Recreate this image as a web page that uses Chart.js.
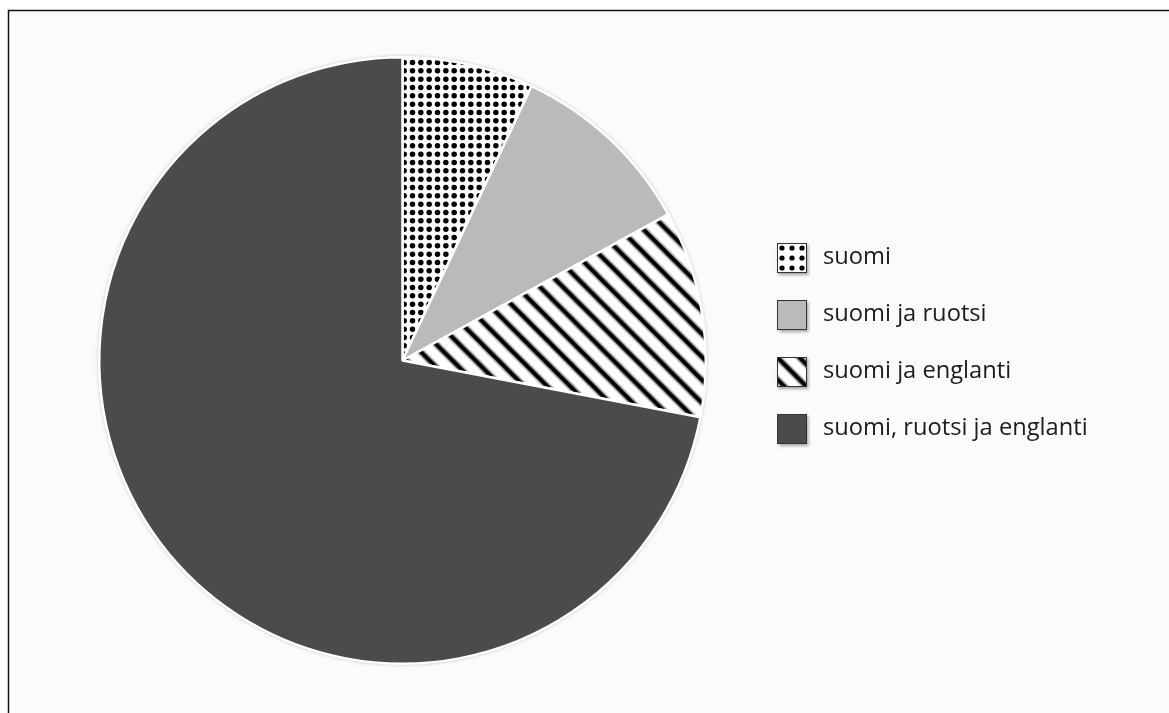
<!DOCTYPE html>
<html><head><meta charset="utf-8">
<script src="https://cdn.jsdelivr.net/npm/chart.js@4"></script>
<style>html,body{margin:0;padding:0;background:#fff;overflow:hidden}</style>
</head><body>
<canvas id="c" width="1169" height="713"></canvas>
<script>
const categories = ['suomi', 'suomi ja ruotsi', 'suomi ja englanti', 'suomi, ruotsi ja englanti'];
const shares = [7, 10, 11, 72];

function dotPattern(size, n, r) {
  const cv = document.createElement('canvas');
  cv.width = size; cv.height = size;
  const g = cv.getContext('2d');
  g.fillStyle = '#ffffff'; g.fillRect(0, 0, size, size);
  g.fillStyle = '#000000';
  const s = size / n;
  for (let i = 0; i < n; i++) for (let j = 0; j < n; j++) {
    g.beginPath(); g.arc(s * (i + 0.5), s * (j + 0.5), r, 0, Math.PI * 2); g.fill();
  }
  return g.createPattern(cv, 'repeat');
}
function stripePattern(p) {
  const cv = document.createElement('canvas');
  cv.width = p; cv.height = p;
  const g = cv.getContext('2d');
  g.fillStyle = '#ffffff'; g.fillRect(0, 0, p, p);
  [[8, 'rgba(0,0,0,0.18)'], [5.5, 'rgba(0,0,0,0.45)'], [3.4, '#000']].forEach(([w, c]) => {
    g.strokeStyle = c; g.lineWidth = w;
    for (const k of [-p, 0, p]) {
      g.beginPath(); g.moveTo(-3, -3 + k); g.lineTo(p + 3, p + 3 + k); g.stroke();
    }
  });
  return g.createPattern(cv, 'repeat');
}
const fills = [dotPattern(25, 3, 2.75), '#bababa', stripePattern(23), '#4b4b4b'];
const legendFills = [dotPattern(10, 1, 2.6), '#bababa', stripePattern(22), '#4b4b4b'];

const framePlugin = {
  id: 'frame',
  beforeDraw(chart) {
    const ctx = chart.ctx;
    ctx.save();
    ctx.fillStyle = '#ffffff'; ctx.fillRect(0, 0, chart.width, chart.height);
    ctx.fillStyle = '#fbfbfb'; ctx.fillRect(9, 11, chart.width - 9, chart.height - 11);
    ctx.strokeStyle = '#111'; ctx.lineWidth = 1.5;
    ctx.beginPath(); ctx.moveTo(8.5, chart.height); ctx.lineTo(8.5, 10.5); ctx.lineTo(chart.width, 10.5); ctx.stroke();
    ctx.restore();
  },
  beforeDatasetsDraw(chart) {
    const arc = chart.getDatasetMeta(0).data[0];
    if (!arc) return;
    const ctx = chart.ctx;
    ctx.save();
    ctx.shadowColor = 'rgba(0,0,0,0.35)'; ctx.shadowBlur = 4;
    ctx.fillStyle = '#ffffff';
    ctx.beginPath(); ctx.arc(arc.x, arc.y, arc.outerRadius, 0, Math.PI * 2); ctx.fill();
    ctx.restore();
  },
  afterDraw(chart) {
    const ctx = chart.ctx;
    ctx.save();
    categories.forEach((lab, i) => {
      const x = 777, y = 243 + i * 57;
      ctx.save();
      ctx.shadowColor = 'rgba(0,0,0,0.35)'; ctx.shadowBlur = 3; ctx.shadowOffsetX = 1.5; ctx.shadowOffsetY = 2;
      ctx.translate(x, y);
      ctx.fillStyle = legendFills[i];
      ctx.fillRect(0, 0, 30, 30);
      ctx.restore();
      ctx.strokeStyle = '#333'; ctx.lineWidth = 1;
      ctx.strokeRect(x + 0.5, y + 0.5, 29, 29);
      ctx.fillStyle = '#1c1c1c';
      ctx.font = '23.7px "Open Sans"';
      ctx.textBaseline = 'middle';
      ctx.fillText(lab, 823, y + 14);
    });
    ctx.restore();
  }
};

new Chart(document.getElementById('c'), {
  type: 'pie',
  data: {
    labels: categories,
    datasets: [{
      data: shares,
      backgroundColor: fills,
      borderColor: '#ffffff',
      borderWidth: 2.5,
      hoverOffset: 0
    }]
  },
  options: {
    responsive: false,
    animation: false,
    layout: { padding: { left: 98, right: 462, top: 56, bottom: 48 } },
    plugins: { legend: { display: false }, tooltip: { enabled: false } }
  },
  plugins: [framePlugin]
});
</script>
</body></html>
